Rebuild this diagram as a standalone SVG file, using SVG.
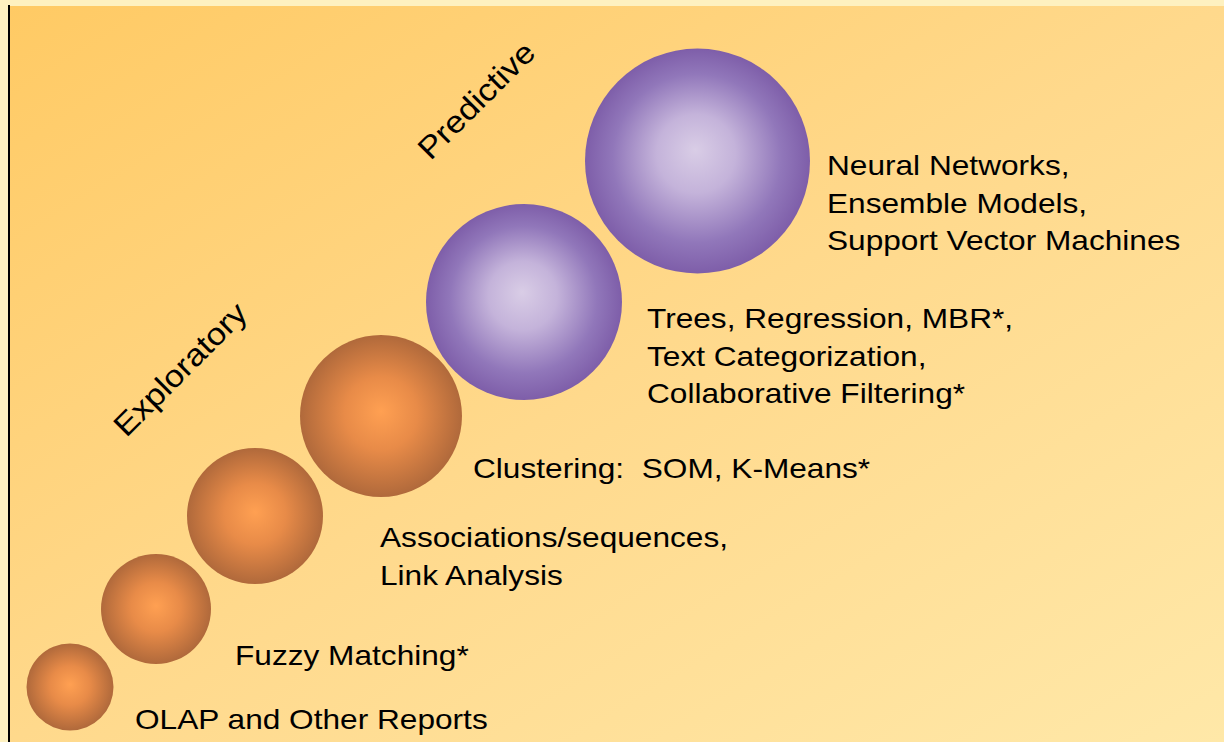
<svg xmlns="http://www.w3.org/2000/svg" width="1224" height="742" viewBox="0 0 1224 742">
  <defs>
    <linearGradient id="bg" x1="0" y1="0" x2="1" y2="1">
      <stop offset="0" stop-color="#ffca64"/>
      <stop offset="0.5" stop-color="#ffd98c"/>
      <stop offset="1" stop-color="#ffe8a8"/>
    </linearGradient>
    <radialGradient id="orange" cx="0.5" cy="0.5" r="0.5" fx="0.5" fy="0.47">
      <stop offset="0" stop-color="#ffa052"/>
      <stop offset="0.45" stop-color="#e88b48"/>
      <stop offset="1" stop-color="#b0693b"/>
    </radialGradient>
    <radialGradient id="purple" cx="0.5" cy="0.5" r="0.5" fx="0.49" fy="0.45">
      <stop offset="0" stop-color="#d9cde6"/>
      <stop offset="0.35" stop-color="#c4b3da"/>
      <stop offset="0.75" stop-color="#9177ba"/>
      <stop offset="1" stop-color="#7e5ea9"/>
    </radialGradient>
    <style>
      .lbl { font-family: "Liberation Sans", Arial, sans-serif; font-size: 28.5px; fill: #000; white-space: pre; }
      .axis { font-family: "Liberation Sans", Arial, sans-serif; font-size: 31px; fill: #000; text-anchor: middle; }
    </style>
  </defs>

  <!-- page and slide background -->
  <rect x="0" y="0" width="1224" height="742" fill="#fef1c0"/>
  <rect x="9" y="6" width="1215" height="736" fill="url(#bg)"/>

  <!-- vertical axis line -->
  <g id="connectors">
    <line x1="9" y1="5" x2="9" y2="742" stroke="#000" stroke-width="2"/>
  </g>

  <!-- axis labels (wide-set type: horizontal scale 1.11) -->
  <g id="exploratory">
    <text class="axis" transform="translate(180,369) rotate(-45) scale(1.11,1)" y="11">Exploratory</text>
  </g>
  <g id="predictive">
    <text class="axis" transform="translate(476,100) rotate(-45) scale(1.11,1)" y="11">Predictive</text>
  </g>

  <!-- technique bubbles, smallest to largest -->
  <g id="olap">
    <circle cx="70" cy="687" r="43.5" fill="url(#orange)"/>
    <text class="lbl" transform="translate(135,729) scale(1.11,1)">OLAP and Other Reports</text>
  </g>
  <g id="fuzzy">
    <circle cx="156" cy="609" r="55" fill="url(#orange)"/>
    <text class="lbl" transform="translate(235,665) scale(1.11,1)">Fuzzy Matching*</text>
  </g>
  <g id="associations">
    <circle cx="255" cy="516" r="68" fill="url(#orange)"/>
    <text class="lbl" transform="translate(380,547) scale(1.11,1)">Associations/sequences,</text>
    <text class="lbl" transform="translate(380,585) scale(1.11,1)">Link Analysis</text>
  </g>
  <g id="clustering">
    <circle cx="381" cy="416" r="81" fill="url(#orange)"/>
    <text class="lbl" transform="translate(473,478) scale(1.11,1)" xml:space="preserve">Clustering:  SOM, K-Means*</text>
  </g>
  <g id="trees">
    <circle cx="524" cy="302" r="98" fill="url(#purple)"/>
    <text class="lbl" transform="translate(647,328) scale(1.11,1)">Trees, Regression, MBR*,</text>
    <text class="lbl" transform="translate(647,366) scale(1.11,1)">Text Categorization,</text>
    <text class="lbl" transform="translate(647,403) scale(1.11,1)">Collaborative Filtering*</text>
  </g>
  <g id="neural">
    <circle cx="697.5" cy="161" r="112.5" fill="url(#purple)"/>
    <text class="lbl" transform="translate(827,175) scale(1.11,1)">Neural Networks,</text>
    <text class="lbl" transform="translate(827,213) scale(1.11,1)">Ensemble Models,</text>
    <text class="lbl" transform="translate(827,250) scale(1.11,1)">Support Vector Machines</text>
  </g>
</svg>
